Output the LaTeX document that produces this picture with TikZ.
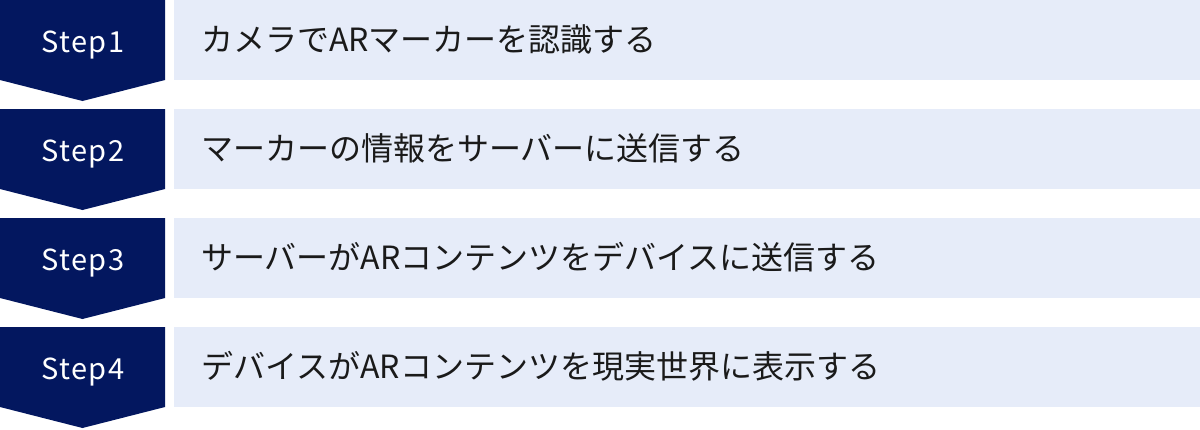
\documentclass[tikz,border=0pt]{standalone}
\usepackage{fontspec}
\setmainfont{Noto Sans CJK JP}
\newfontfamily\stepfont[LetterSpace=5]{Noto Sans CJK JP}
\definecolor{stepnavy}{HTML}{03175F}
\definecolor{rowblue}{HTML}{E6ECF9}
\definecolor{rowtext}{HTML}{1A1A1A}
\tikzset{
  steplabel/.style={text=white, anchor=base, inner sep=0pt, font=\stepfont\fontsize{29}{34}\selectfont},
  taskbox/.style={fill=rowblue, anchor=north west, minimum width=1026pt, minimum height=80pt},
  tasktext/.style={anchor=base west, inner sep=0pt, text=rowtext, font=\fontsize{32}{38}\selectfont}
}
\begin{document}
\begin{tikzpicture}[x=1pt,y=-1pt]
  \useasboundingbox (0,0) rectangle (1200,429);

  \foreach \i/\txt in {1/カメラでARマーカーを認識する,
                       2/マーカーの情報をサーバーに送信する,
                       3/サーバーがARコンテンツをデバイスに送信する,
                       4/デバイスがARコンテンツを現実世界に表示する}{
    \pgfmathsetmacro{\rowtop}{(\i-1)*109}

    % Draw the step chevron
    \fill[stepnavy] (0,\rowtop) -- (165,\rowtop) -- (165,\rowtop+80)
      -- (82.5,\rowtop+101) -- (0,\rowtop+80) -- cycle;

    % Label the step
    \node[steplabel] (step\i) at (83,\rowtop+52) {Step\i};

    % Draw the task box and its text
    \node[taskbox] (task\i) at (174,\rowtop) {};
    \node[tasktext] (text\i) at (201,\rowtop+51) {\txt};
  }
\end{tikzpicture}
\end{document}
